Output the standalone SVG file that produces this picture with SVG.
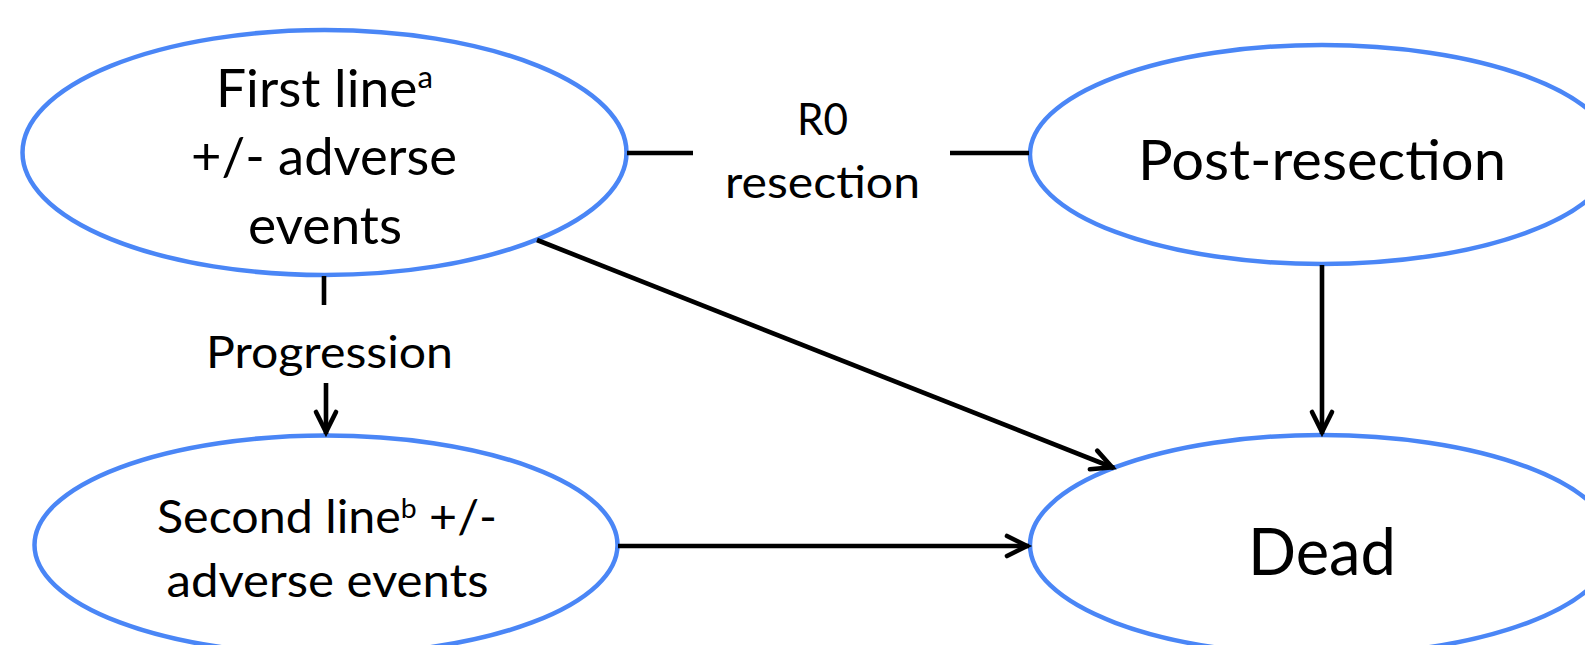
<svg xmlns="http://www.w3.org/2000/svg" width="1585" height="645" viewBox="0 0 1585 645">
  <style>
    .state { fill: #ffffff; stroke: #4A86F6; stroke-width: 4.5; }
    .label { font-family: Lato, "Open Sans", "Liberation Sans", sans-serif; fill: #000000; }
    .link { fill: none; stroke: #000000; stroke-width: 4.6; }
  </style>
  <defs>
    <marker id="arrow" markerUnits="userSpaceOnUse" markerWidth="40" markerHeight="40" viewBox="-30 -20 40 40" refX="0" refY="0" orient="auto" overflow="visible">
      <path d="M-22,-10 L-2,0 L-22,10" fill="none" stroke="#000000" stroke-width="4.6" stroke-linecap="round"/>
    </marker>
  </defs>

  <rect width="1585" height="645" fill="#ffffff"/>

  <g id="node-first-line">
    <ellipse class="state" cx="324.5" cy="152.5" rx="302" ry="122.5"/>
    <text class="label" x="216" y="107" font-size="53" textLength="217" lengthAdjust="spacingAndGlyphs">First line<tspan font-size="31" dy="-19">a</tspan></text>
    <text class="label" x="191" y="175" font-size="53" textLength="266" lengthAdjust="spacingAndGlyphs">+/- adverse</text>
    <text class="label" x="248" y="244" font-size="53" textLength="154" lengthAdjust="spacingAndGlyphs">events</text>
  </g>

  <g id="node-post-resection">
    <ellipse class="state" cx="1322" cy="154.5" rx="292" ry="109.5"/>
    <text class="label" x="1138" y="180" font-size="56" textLength="368" lengthAdjust="spacingAndGlyphs">Post-resection</text>
  </g>

  <g id="node-second-line">
    <ellipse class="state" cx="326" cy="545" rx="291.5" ry="109.5"/>
    <text class="label" x="157" y="533" font-size="46" textLength="340" lengthAdjust="spacingAndGlyphs">Second line<tspan font-size="27" dy="-15">b</tspan><tspan dy="15"> +/-</tspan></text>
    <text class="label" x="166.5" y="597" font-size="46" textLength="322" lengthAdjust="spacingAndGlyphs">adverse events</text>
  </g>

  <g id="node-dead">
    <ellipse class="state" cx="1321.5" cy="545" rx="291.5" ry="110"/>
    <text class="label" x="1248" y="575" font-size="65" textLength="148" lengthAdjust="spacingAndGlyphs">Dead</text>
  </g>

  <g id="connectors">
    <!-- first line to post-resection, labelled in the gap -->
    <path class="link" d="M627,153 L693,153"/>
    <path class="link" d="M950,153 L1029,153"/>
    <text class="label" x="797" y="135" font-size="45" textLength="51" lengthAdjust="spacingAndGlyphs">R0</text>
    <text class="label" x="725" y="198" font-size="45" textLength="195" lengthAdjust="spacingAndGlyphs">resection</text>

    <!-- first line to second line, labelled in the gap -->
    <path class="link" d="M324,276 L324,305"/>
    <text class="label" x="206" y="368" font-size="45" textLength="247" lengthAdjust="spacingAndGlyphs">Progression</text>
    <path class="link" d="M326,383 L326,434" marker-end="url(#arrow)"/>

    <!-- transitions to death -->
    <path class="link" d="M537,240 L1114,468" marker-end="url(#arrow)"/>
    <path class="link" d="M1322,265 L1322,434" marker-end="url(#arrow)"/>
    <path class="link" d="M618,546 L1029,546" marker-end="url(#arrow)"/>
  </g>
</svg>
